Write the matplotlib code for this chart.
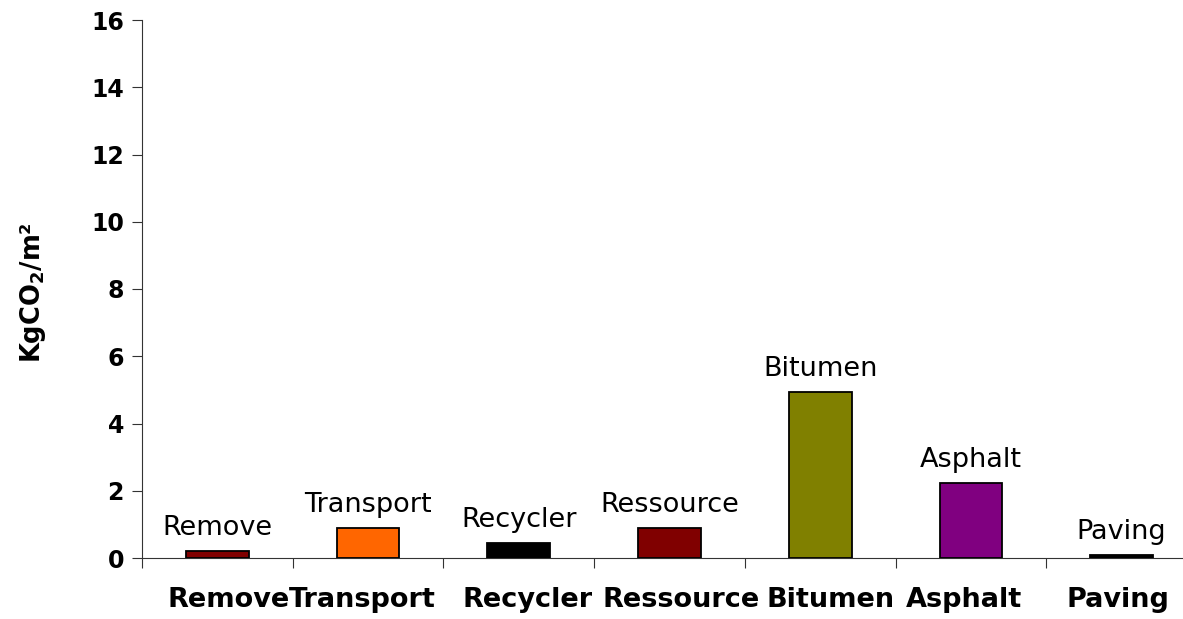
import matplotlib
matplotlib.use("Agg")
import matplotlib.pyplot as plt
import matplotlib.transforms as mtransforms
import numpy as np

categories = ["Remove", "Transport", "Recycler", "Ressource", "Bitumen", "Asphalt", "Paving"]
values = [0.2, 0.9, 0.45, 0.9, 4.95, 2.22, 0.1]
colors = ["#800000", "#FF6600", "#000000", "#800000", "#808000", "#800080", "#000000"]
yticks = [0, 2, 4, 6, 8, 10, 12, 14, 16]
# horizontal nudges (pixels) of the bold category labels, as laid out in the original
label_nudge_px = [11, -6, 9, 12, 10, -7, -4]

plt.rcParams['font.family'] = ['DejaVu Sans']
fig = plt.figure(figsize=(11.83, 6.19), dpi=100)
ax = fig.add_axes([142/1183, 1-558/619, 1055/1183, 538/619])

x = np.arange(len(categories))
ax.bar(x, values, width=0.416, color=colors, edgecolor="black", linewidth=1.3, zorder=3)

for xi, v, name in zip(x, values, categories):
    ax.annotate(name, (xi, v), xytext=(0, 11.5), textcoords="offset points",
                ha="center", va="baseline", fontsize=19.5)

ax.set_xlim(-0.5, len(categories) - 0.5)
ax.set_ylim(0, 16)
ax.set_yticks(yticks)
ax.set_yticklabels([str(t) for t in yticks], fontsize=17, fontweight="bold")
ax.set_xticks(x)
ax.set_xticklabels(categories, fontsize=19.5, fontweight="bold")
ax.set_xticks(np.arange(len(categories) + 1) - 0.5, minor=True)
ax.tick_params(axis="x", which="major", length=0, pad=21)
ax.tick_params(axis="x", which="minor", length=7, width=0.8, direction="out", color="#333333")
ax.tick_params(axis="y", length=7, width=0.8, direction="out", color="#333333", pad=6)

for lbl, dx in zip(ax.get_xticklabels(), label_nudge_px):
    lbl.set_transform(lbl.get_transform() + mtransforms.Affine2D().translate(dx, 0))

for s in ["top", "right"]:
    ax.spines[s].set_visible(False)
for s in ["left", "bottom"]:
    ax.spines[s].set_linewidth(0.8)
    ax.spines[s].set_color("#333333")

ax.set_ylabel(r"KgCO$_\mathbf{2}$/m²", fontsize=18.5, fontweight="bold")
ax.yaxis.set_label_coords(-94/1055, 0.494)

fig.savefig("out.png", dpi=100)
